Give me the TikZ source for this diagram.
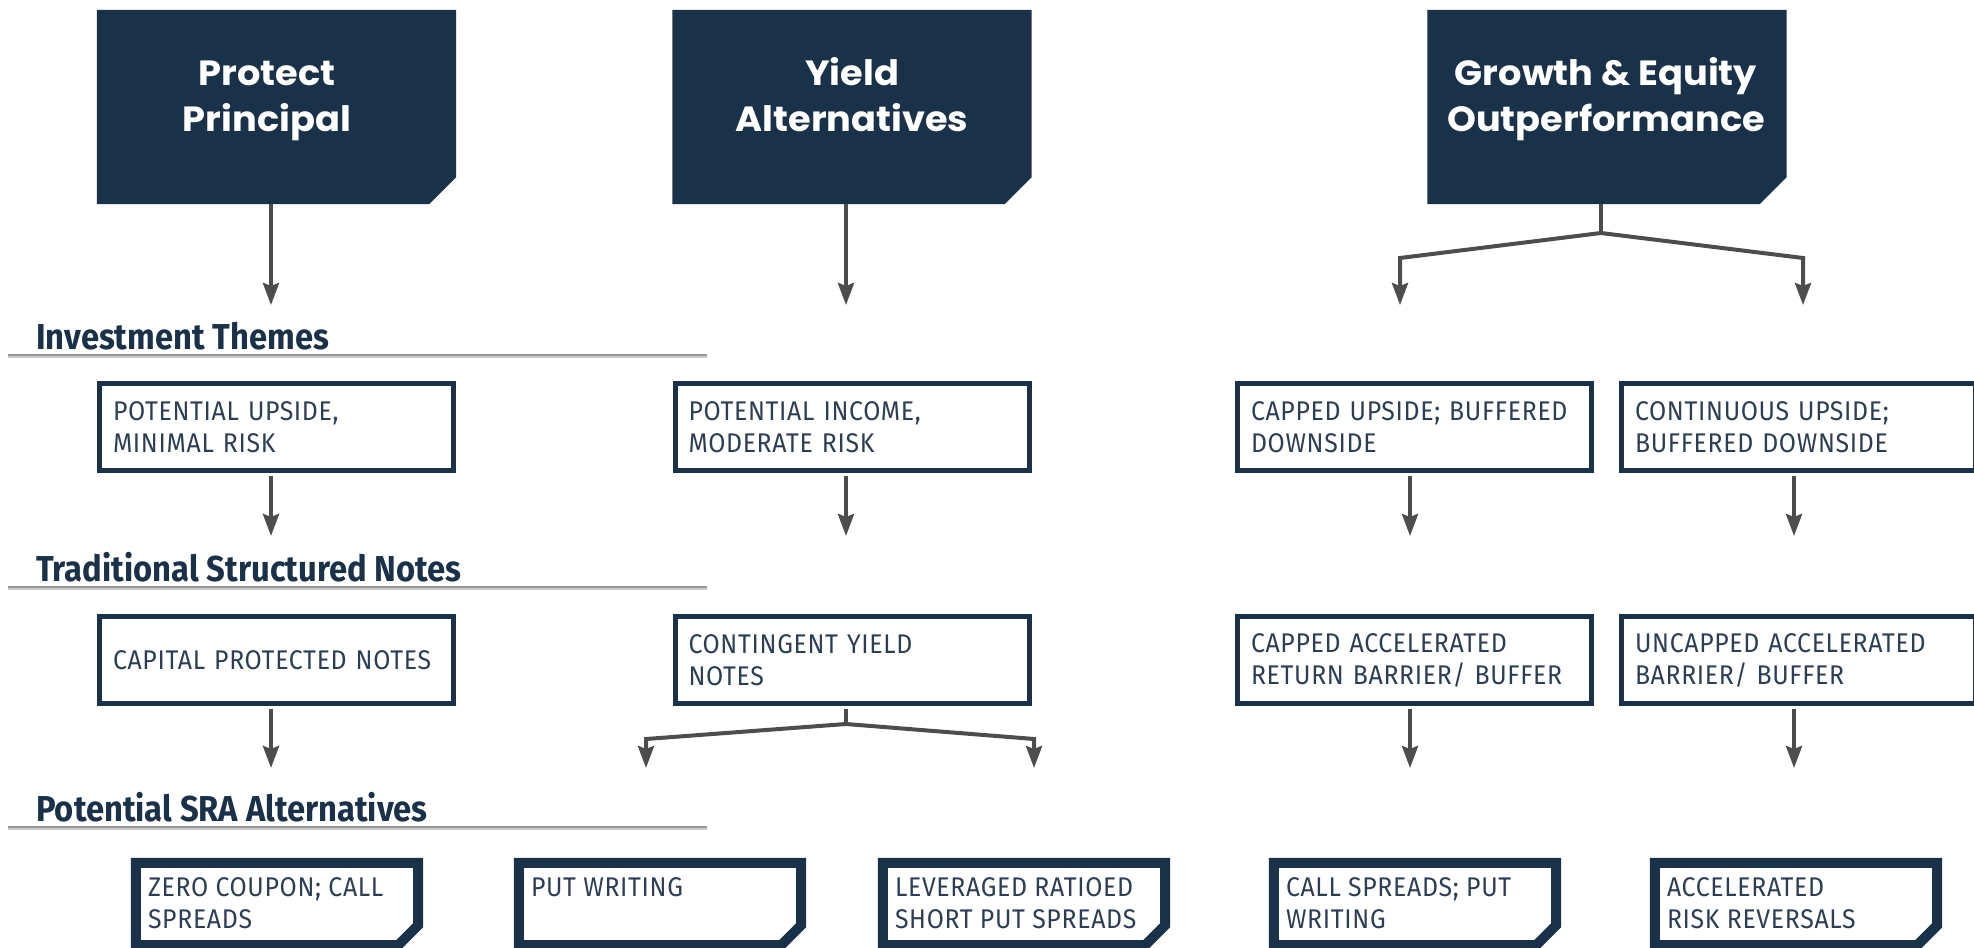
\documentclass[tikz,border=0pt]{standalone}
\usepackage{fontspec}
\usetikzlibrary{arrows.meta,calc}
\setmainfont{Fira Sans}
\newfontfamily\hdrfont{Poppins}[FakeStretch=1.05]
\newfontfamily\secfont{Fira Sans}[FakeStretch=0.91]
\newfontfamily\boxfont{Fira Sans}[FakeStretch=0.92,LetterSpace=2.5]

\definecolor{navy}{RGB}{25,49,73}
\definecolor{boxtext}{RGB}{44,62,86}
\definecolor{wire}{RGB}{77,77,77}
\definecolor{ruledark}{RGB}{150,150,150}
\definecolor{rulelight}{RGB}{205,205,205}

% outline of a box whose lower right corner is cut off
\newcommand{\cutpath}[2]{(#1.north west) -- (#1.north east) -- ([yshift=#2]#1.south east) -- ([xshift=-#2]#1.south east) -- (#1.south west) -- cycle}

\begin{document}
\begin{tikzpicture}[x=1pt,y=-1pt,
  hdrbox/.style={minimum width=359pt, minimum height=194pt, inner sep=0pt, draw=none},
  hdrtext/.style={font=\hdrfont\bfseries\fontsize{35}{46}\selectfont, text=white, inner sep=0pt, anchor=base},
  sectext/.style={font=\secfont\bfseries\fontsize{36}{40}\selectfont, text=navy, inner sep=0pt, anchor=base west},
  themebox/.style={draw=navy, line width=5pt, minimum height=87pt, inner xsep=13.5pt, inner ysep=0pt,
    text width=327pt, align=left, font=\boxfont\fontsize{27}{32}\selectfont, text=boxtext},
  altbox/.style={minimum width=282pt, minimum height=82pt, inner sep=0pt, draw=none},
  alttext/.style={font=\boxfont\fontsize{27}{32}\selectfont, text=boxtext, align=left, inner sep=0pt, anchor=north west},
  wirearrow/.style={draw=wire, line width=4pt, -{Stealth[length=22pt,width=16pt,inset=3pt]}},
  wire/.style={draw=wire, line width=4pt, line join=miter},
]
\useasboundingbox (0,0) rectangle (1974,948);
\clip (0,0) rectangle (1974,948);

% ---- goal headers
\node[hdrbox] (hA) at (276.5,107) {};
\node[hdrbox] (hB) at (852,107) {};
\node[hdrbox] (hC) at (1607,107) {};
\foreach \n in {hA,hB,hC} \fill[navy] \cutpath{\n}{27pt};
\node[hdrtext] (hA1) at (267,85) {Protect};
\node[hdrtext] (hA2) at (267,131) {Principal};
\node[hdrtext] (hB1) at (852,85) {Yield};
\node[hdrtext] (hB2) at (852,131) {Alternatives};
\node[hdrtext] (hC1) at (1606,85) {Growth \& Equity};
\node[hdrtext] (hC2) at (1606,131) {Outperformance};

% ---- section titles and their rules
\node[sectext] (s1) at (36,349) {Investment Themes};
\node[sectext] (s2) at (36,581) {Traditional Structured Notes};
\node[sectext] (s3) at (36,821) {Potential SRA Alternatives};
\foreach \y in {355,587,827} {
  \draw[rulelight, line width=2pt] (8,\y+2) -- (707,\y+2);
  \draw[ruledark, line width=1.3pt] (8,\y) -- (707,\y);
}

% ---- investment themes
\node[themebox] (A1) at (276.5,427) {POTENTIAL UPSIDE,\\MINIMAL RISK};
\node[themebox] (B1) at (852,427) {POTENTIAL INCOME,\\MODERATE RISK};
\node[themebox] (C1) at (1414.5,427) {CAPPED UPSIDE; BUFFERED\\DOWNSIDE};
\node[themebox] (D1) at (1798.5,427) {CONTINUOUS UPSIDE;\\BUFFERED DOWNSIDE};

% ---- traditional structured notes
\node[themebox] (A2) at (276.5,660) {CAPITAL PROTECTED NOTES};
\node[themebox] (B2) at (852,660) {CONTINGENT YIELD\\NOTES};
\node[themebox] (C2) at (1414.5,660) {CAPPED ACCELERATED\\RETURN BARRIER/ BUFFER};
\node[themebox] (D2) at (1798.5,660) {UNCAPPED ACCELERATED\\BARRIER/ BUFFER};

% ---- SRA alternatives
\node[altbox] (A3) at (277,904) {};
\node[altbox] (B3) at (660,904) {};
\node[altbox] (C3) at (1024,904) {};
\node[altbox] (D3) at (1415,904) {};
\node[altbox] (E3) at (1796,904) {};
\foreach \n in {A3,B3,C3,D3,E3} \draw[navy, line width=10pt, line join=miter] \cutpath{\n}{20pt};
\node[alttext] (A3t) at ([xshift=12pt,yshift=-15pt]A3.north west) {ZERO COUPON; CALL\\SPREADS};
\node[alttext] (B3t) at ([xshift=12pt,yshift=-15pt]B3.north west) {PUT WRITING};
\node[alttext] (C3t) at ([xshift=12pt,yshift=-15pt]C3.north west) {LEVERAGED RATIOED\\SHORT PUT SPREADS};
\node[alttext] (D3t) at ([xshift=12pt,yshift=-15pt]D3.north west) {CALL SPREADS; PUT\\WRITING};
\node[alttext] (E3t) at ([xshift=12pt,yshift=-15pt]E3.north west) {ACCELERATED\\RISK REVERSALS};

% ---- arrow tips and junctions
\coordinate (tA1) at (271,305);
\coordinate (tB1) at (846,305);
\coordinate (jC) at (1601,233);
\coordinate (kC1) at (1400,258);
\coordinate (kD1) at (1803,258);
\coordinate (tC1) at (1400,305);
\coordinate (tD1) at (1803,305);
\coordinate (tA2) at (271,536);
\coordinate (tB2) at (846,536);
\coordinate (tC2) at (1410,536);
\coordinate (tD2) at (1794,536);
\coordinate (tA3) at (271,768);
\coordinate (jB) at (846,724);
\coordinate (kB3) at (646,739);
\coordinate (kC3) at (1034,739);
\coordinate (tB3) at (646,768);
\coordinate (tC3) at (1034,768);
\coordinate (tD3) at (1410,768);
\coordinate (tE3) at (1794,768);

% ---- connectors
\draw[wirearrow] (hA.south -| tA1) -- (tA1);
\draw[wirearrow] (hB.south -| tB1) -- (tB1);
\draw[wire] (hC.south -| jC) -- (jC);
\draw[wirearrow] (jC) -- (kC1) -- (tC1);
\draw[wirearrow] (jC) -- (kD1) -- (tD1);

\draw[wirearrow] ([yshift=-2.5pt]A1.south -| tA2) -- (tA2);
\draw[wirearrow] ([yshift=-2.5pt]B1.south -| tB2) -- (tB2);
\draw[wirearrow] ([yshift=-2.5pt]C1.south -| tC2) -- (tC2);
\draw[wirearrow] ([yshift=-2.5pt]D1.south -| tD2) -- (tD2);

\draw[wirearrow] ([yshift=-2.5pt]A2.south -| tA3) -- (tA3);
\draw[wire] ([yshift=-2.5pt]B2.south -| jB) -- (jB);
\draw[wirearrow] (jB) -- (kB3) -- (tB3);
\draw[wirearrow] (jB) -- (kC3) -- (tC3);
\draw[wirearrow] ([yshift=-2.5pt]C2.south -| tD3) -- (tD3);
\draw[wirearrow] ([yshift=-2.5pt]D2.south -| tE3) -- (tE3);
\end{tikzpicture}
\end{document}
